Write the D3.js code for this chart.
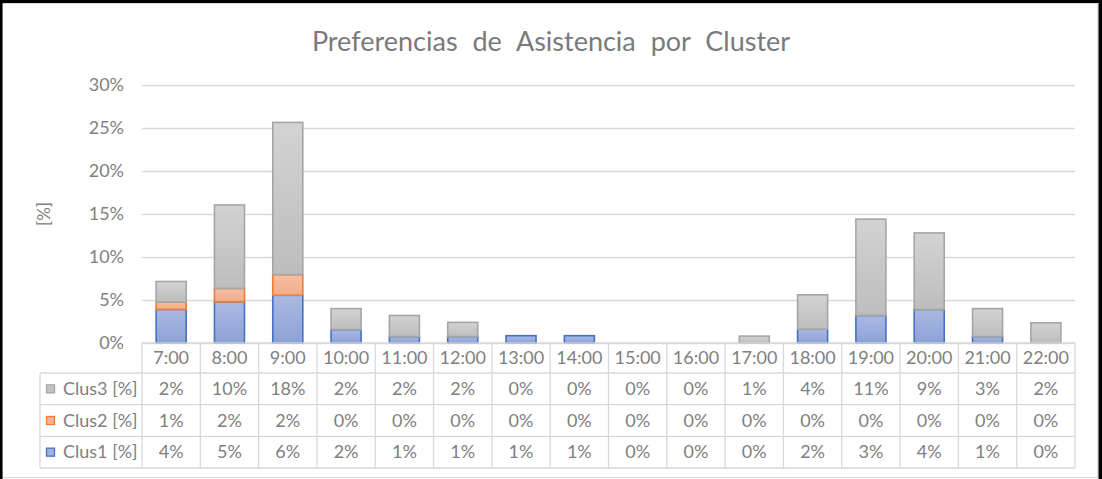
<!DOCTYPE html>
<html><head><meta charset="utf-8">
<script src="https://cdn.jsdelivr.net/npm/d3@7"></script>
<style>body{margin:0;background:#fff}svg{display:block}</style>
</head><body><svg id="c" width="1102" height="479"></svg>
<script>
const categories = ["7:00","8:00","9:00","10:00","11:00","12:00","13:00","14:00","15:00","16:00","17:00","18:00","19:00","20:00","21:00","22:00"];
const seriesNames = ["Clus1 [%]","Clus2 [%]","Clus3 [%]"];
const clus1 = [3.9,4.8,5.55,1.55,0.75,0.75,0.85,0.85,0,0,0,1.6,3.2,3.9,0.75,0];
const clus2 = [0.85,1.55,2.4,0,0,0,0,0,0,0,0,0,0,0,0,0];
const clus3 = [2.4,9.7,17.7,2.45,2.45,1.65,0,0,0,0,0.8,4.0,11.2,8.9,3.25,2.35];
const yTicks = [0,5,10,15,20,25,30];
const titleText = "Preferencias de Asistencia por Cluster";
const yTitle = "[%]";

const FONT = "Lato, 'Open Sans', sans-serif";
const styles = [
  {stroke:"#4472c4", top:"#aab9e2", bot:"#8da2d8", key:"#9fb1dd"},
  {stroke:"#ed7d31", top:"#f6bea3", bot:"#f3ab8a", key:"#f4b49a"},
  {stroke:"#a5a5a5", top:"#d3d3d3", bot:"#bdbdbd", key:"#c4c4c4"}
];

const svg = d3.select("#c");
const W = 1102, H = 479;
const left = 142, right = 1075, y0 = 343, yTop = 85;

// frame
svg.append("rect").attr("x",2.5).attr("y",3.5).attr("width",1095).attr("height",474)
  .attr("fill","#fff").attr("stroke","#d9d9d9").attr("stroke-width",1);
svg.append("rect").attr("x",0).attr("y",0).attr("width",W).attr("height",3).attr("fill","#000");
svg.append("rect").attr("x",0).attr("y",0).attr("width",2.5).attr("height",H).attr("fill","#000");
svg.append("rect").attr("x",1098.5).attr("y",0).attr("width",3.5).attr("height",H).attr("fill","#000");

const x = d3.scaleBand().domain(categories).range([left,right]).paddingInner(0).paddingOuter(0);
const y = d3.scaleLinear().domain([0,30]).range([y0,yTop]);

// gradients
const defs = svg.append("defs");
styles.forEach((s,i)=>{
  const g = defs.append("linearGradient").attr("id","g"+i).attr("x1",0).attr("y1",0).attr("x2",0).attr("y2",1);
  g.append("stop").attr("offset","0%").attr("stop-color",s.top);
  g.append("stop").attr("offset","100%").attr("stop-color",s.bot);
});

// grid + y axis
const yAxis = d3.axisLeft(y).tickValues(yTicks).tickFormat(d=>d+"%")
  .tickSizeInner(-(right-left)).tickSizeOuter(0).tickPadding(18);
const ga = svg.append("g").attr("transform",`translate(${left},0)`).call(yAxis);
ga.select(".domain").remove();
ga.selectAll(".tick line").attr("stroke","#d9d9d9").attr("stroke-width",1.3);
ga.selectAll(".tick text").attr("fill","#808080").attr("font-family",FONT).attr("font-size",18);

// title
svg.append("text").attr("x",551).attr("y",51).attr("text-anchor","middle")
  .attr("font-family",FONT).attr("font-size",27).attr("fill","#7a7a7a")
  .attr("word-spacing",8).text(titleText);
svg.append("text").attr("transform","translate(50,214) rotate(-90)").attr("text-anchor","middle")
  .attr("font-family",FONT).attr("font-size",17).attr("fill","#808080").text(yTitle);

// bars
const series = [clus1,clus2,clus3];
const data = categories.map((c,i)=>({cat:c, s0:clus1[i], s1:clus2[i], s2:clus3[i]}));
const stack = d3.stack().keys(["s0","s1","s2"])(data);
const bw = x.bandwidth()*0.515;
stack.forEach((layer,k)=>{
  svg.append("g").selectAll("rect").data(layer.filter(d=>d[1]-d[0]>0)).join("rect")
    .attr("x",d=>x(d.data.cat)+(x.bandwidth()-bw)/2)
    .attr("y",d=>y(d[1]))
    .attr("width",bw)
    .attr("height",d=>y(d[0])-y(d[1]))
    .attr("fill",`url(#g${k})`)
    .attr("stroke",styles[k].stroke).attr("stroke-width",1.6);
});

// data table
const rowTops = [343,373,404.7,436.3,468];
const tg = svg.append("g").attr("stroke","#d9d9d9").attr("stroke-width",1.3);
tg.append("line").attr("x1",left).attr("x2",right).attr("y1",rowTops[0]).attr("y2",rowTops[0]);
rowTops.slice(1).forEach(t=>tg.append("line").attr("x1",40).attr("x2",right).attr("y1",t).attr("y2",t));
tg.append("line").attr("x1",40).attr("x2",40).attr("y1",rowTops[1]).attr("y2",rowTops[4]);
categories.forEach(c=>tg.append("line").attr("x1",x(c)).attr("x2",x(c)).attr("y1",rowTops[0]).attr("y2",rowTops[4]));
tg.append("line").attr("x1",right).attr("x2",right).attr("y1",rowTops[0]).attr("y2",rowTops[4]);

const tx = svg.append("g").attr("font-family",FONT).attr("font-size",18).attr("fill","#808080");
categories.forEach(c=>tx.append("text").attr("x",x(c)+x.bandwidth()/2).attr("y",(rowTops[0]+rowTops[1])/2)
  .attr("dy","0.35em").attr("text-anchor","middle").text(c));
[2,1,0].forEach((k,r)=>{
  const cy = (rowTops[r+1]+rowTops[r+2])/2;
  svg.append("rect").attr("x",46.5).attr("y",cy-4).attr("width",8).attr("height",8)
    .attr("fill",styles[k].key).attr("stroke",styles[k].stroke).attr("stroke-width",1.3);
  tx.append("text").attr("x",63).attr("y",cy).attr("dy","0.35em").text(seriesNames[k]);
  series[k].forEach((v,i)=>tx.append("text").attr("x",x(categories[i])+x.bandwidth()/2).attr("y",cy)
    .attr("dy","0.35em").attr("text-anchor","middle").text(Math.round(v)+"%"));
});
</script></body></html>
